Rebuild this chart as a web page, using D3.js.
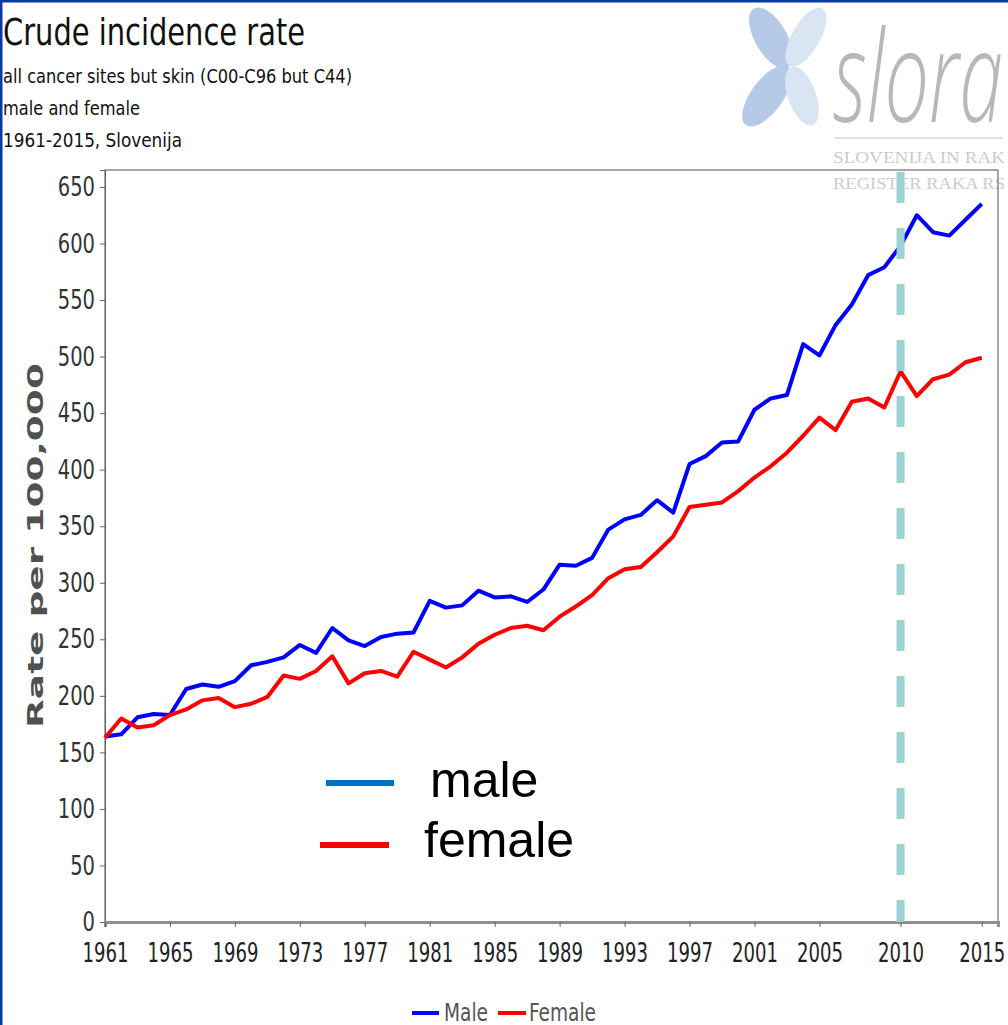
<!DOCTYPE html>
<html lang="en">
<head>
    <meta charset="UTF-8">
    <script src="https://d3js.org/d3.v7.min.js"></script>
    <style>
        html, body { margin: 0; padding: 0; background: #fff; }
        svg { display: block; }
    </style>
</head>
<body>
    <svg id="chart" width="1008" height="1025"></svg>
    <script>
        // data
        const years = d3.range(1961, 2016);
        const maleRate = [164, 166, 181, 184, 183, 206, 210, 208, 213, 227,
            230, 234, 245, 238, 260, 249, 244, 252, 255, 256,
            284, 278, 280, 293, 287, 288, 283, 294, 316, 315,
            322, 347, 356, 360, 373, 362, 405, 412, 424, 425,
            453, 463, 466, 511, 501, 528, 546, 572, 579, 598,
            625, 610, 607, 621, 635];
        const femaleRate = [163, 180, 172, 174, 183, 188, 196, 198, 190, 193,
            199, 218, 215, 222, 235, 211, 220, 222, 217, 239,
            232, 225, 234, 246, 254, 260, 262, 258, 270, 279,
            289, 304, 312, 314, 327, 341, 367, 369, 371, 381,
            393, 403, 415, 430, 446, 435, 460, 463, 455, 487,
            465, 480, 484, 495, 499];
        const yTicks = d3.range(0, 651, 50);
        const xTicks = [1961, 1965, 1969, 1973, 1977, 1981, 1985, 1989, 1993, 1997, 2001, 2005, 2010, 2015];
        const refYear = 2010;
        const seriesNames = ["Male", "Female"];
        const seriesColors = ["#0000ff", "#ff0000"];
        const titleLines = ["all cancer sites but skin (C00-C96 but C44)", "male and female", "1961-2015, Slovenija"];

        const width = 1008, height = 1025;
        const cond = "'DejaVu Sans Condensed', 'DejaVu Sans', sans-serif";

        const svg = d3.select("#chart");

        // page border (top / left)
        svg.append("rect").attr("x", 0).attr("y", 0).attr("width", width).attr("height", 2.5).attr("fill", "#0b3aa6");
        svg.append("rect").attr("x", 0).attr("y", 0).attr("width", 2.5).attr("height", height).attr("fill", "#0b3aa6");

        // titles
        svg.append("text")
            .attr("x", 3).attr("y", 45)
            .attr("font-family", cond).attr("font-size", 38).attr("fill", "#111")
            .attr("textLength", 302).attr("lengthAdjust", "spacingAndGlyphs")
            .text("Crude incidence rate");

        const subLen = [349, 137, 179];
        titleLines.forEach((t, i) => {
            svg.append("text")
                .attr("x", 3).attr("y", 83 + i * 32)
                .attr("font-family", cond).attr("font-size", 20).attr("fill", "#111")
                .attr("textLength", subLen[i]).attr("lengthAdjust", "spacingAndGlyphs")
                .text(t);
        });

        // logo
        const logo = svg.append("g");
        const petals = [
            { cx: 771, cy: 38, rx: 34, ry: 16, a: 60, c: "#b6cae7" },
            { cx: 806, cy: 37, rx: 33, ry: 14, a: -60, c: "#dae5f3" },
            { cx: 767, cy: 96, rx: 36, ry: 16, a: -54, c: "#b6cae7" },
            { cx: 802, cy: 96, rx: 31, ry: 14, a: 70, c: "#dae5f3" }
        ];
        petals.forEach(p => {
            logo.append("ellipse")
                .attr("cx", 0).attr("cy", 0).attr("rx", p.rx).attr("ry", p.ry)
                .attr("transform", `translate(${p.cx},${p.cy}) rotate(${p.a})`)
                .attr("fill", p.c);
        });
        logo.append("text")
            .attr("x", 833).attr("y", 122)
            .attr("font-family", "'Open Sans', 'DejaVu Sans', sans-serif")
            .attr("font-weight", 300).attr("font-style", "italic")
            .attr("font-size", 128).attr("fill", "#b8b8b8")
            .attr("textLength", 170).attr("lengthAdjust", "spacingAndGlyphs")
            .text("slora");
        logo.append("line")
            .attr("x1", 835).attr("x2", 1003).attr("y1", 138).attr("y2", 138)
            .attr("stroke", "#d8d8d8").attr("stroke-width", 1.5);
        ["SLOVENIJA IN RAK", "REGISTER RAKA RS"].forEach((t, i) => {
            logo.append("text")
                .attr("x", 833).attr("y", 163 + i * 26)
                .attr("font-family", "'Liberation Serif', 'DejaVu Serif', serif")
                .attr("font-size", 16).attr("fill", "#cccccc")
                .attr("textLength", 172).attr("lengthAdjust", "spacingAndGlyphs")
                .text(t);
        });

        // scales
        const x = d3.scaleLinear().domain([1961, 2016]).range([105, 998]);
        const y = d3.scaleLinear().domain([0, 665]).range([922, 170]);

        // plot frame
        svg.append("rect")
            .attr("x", x(1961)).attr("y", y(665))
            .attr("width", x(2016) - x(1961)).attr("height", y(0) - y(665))
            .attr("fill", "none").attr("stroke", "#8a8a8a").attr("stroke-width", 1.5);

        // y axis
        const yAxis = svg.append("g")
            .attr("transform", `translate(${x(1961)},0)`)
            .call(d3.axisLeft(y).tickValues(yTicks).tickSize(5).tickPadding(5));
        yAxis.select(".domain").attr("stroke", "#666");
        yAxis.selectAll(".tick line").attr("stroke", "#666");
        yAxis.selectAll(".tick text")
            .attr("font-family", cond).attr("font-size", 27).attr("fill", "#333")
            .attr("textLength", d => String(d).length * 12.4)
            .attr("lengthAdjust", "spacingAndGlyphs");

        // x axis
        const xAxis = svg.append("g")
            .attr("transform", `translate(0,${y(0)})`)
            .call(d3.axisBottom(x).tickValues(xTicks).tickFormat(d3.format("d")).tickSize(5).tickPadding(16));
        xAxis.select(".domain").attr("stroke", "#8f8f8f").attr("stroke-width", 3);
        xAxis.selectAll(".tick line").attr("stroke", "#666");
        xAxis.selectAll(".tick text")
            .attr("font-family", cond).attr("font-size", 27).attr("fill", "#222")
            .attr("textLength", 46).attr("lengthAdjust", "spacingAndGlyphs");

        // y axis title
        svg.append("text")
            .attr("transform", `translate(43,${(363 + 728) / 2}) rotate(-90)`)
            .attr("text-anchor", "middle")
            .attr("font-family", "'DejaVu Sans', sans-serif").attr("font-weight", "bold")
            .attr("font-size", 22).attr("fill", "#505050")
            .attr("textLength", 365).attr("lengthAdjust", "spacingAndGlyphs")
            .text("Rate per 100,000");

        // lines
        const line = d3.line()
            .x((d, i) => x(years[i]))
            .y(d => y(d));

        [maleRate, femaleRate].forEach((s, k) => {
            svg.append("path")
                .datum(s)
                .attr("fill", "none")
                .attr("stroke", seriesColors[k])
                .attr("stroke-width", 4)
                .attr("stroke-linejoin", "round")
                .attr("d", line);
        });

        // reference year dashed line
        svg.append("line")
            .attr("x1", x(refYear)).attr("x2", x(refYear))
            .attr("y1", y(665) + 2).attr("y2", y(0))
            .attr("stroke", "#9dd2d5").attr("stroke-width", 8)
            .attr("stroke-dasharray", "31,25");

        // annotation legend inside plot
        const note = svg.append("g");
        [["male", "#0070c0", 326, 394, 783, 430, 797], ["female", "#ff0000", 320, 389, 845, 424, 857]].forEach(r => {
            note.append("line")
                .attr("x1", r[2]).attr("x2", r[3]).attr("y1", r[4]).attr("y2", r[4])
                .attr("stroke", r[1]).attr("stroke-width", 6);
            note.append("text")
                .attr("x", r[5]).attr("y", r[6])
                .attr("font-family", "'Liberation Sans', Arial, sans-serif")
                .attr("font-size", 50).attr("fill", "#000")
                .text(r[0]);
        });

        // bottom legend
        const legend = svg.append("g");
        const legPos = [{ s: 412, e: 439, t: 444, len: 44 }, { s: 498, e: 526, t: 529, len: 67 }];
        seriesNames.forEach((n, i) => {
            const p = legPos[i];
            legend.append("line")
                .attr("x1", p.s).attr("x2", p.e).attr("y1", 1013).attr("y2", 1013)
                .attr("stroke", seriesColors[i]).attr("stroke-width", 4);
            legend.append("text")
                .attr("x", p.t).attr("y", 1021)
                .attr("font-family", cond).attr("font-size", 24).attr("fill", "#555")
                .attr("textLength", p.len).attr("lengthAdjust", "spacingAndGlyphs")
                .text(n);
        });
    </script>
</body>
</html>
